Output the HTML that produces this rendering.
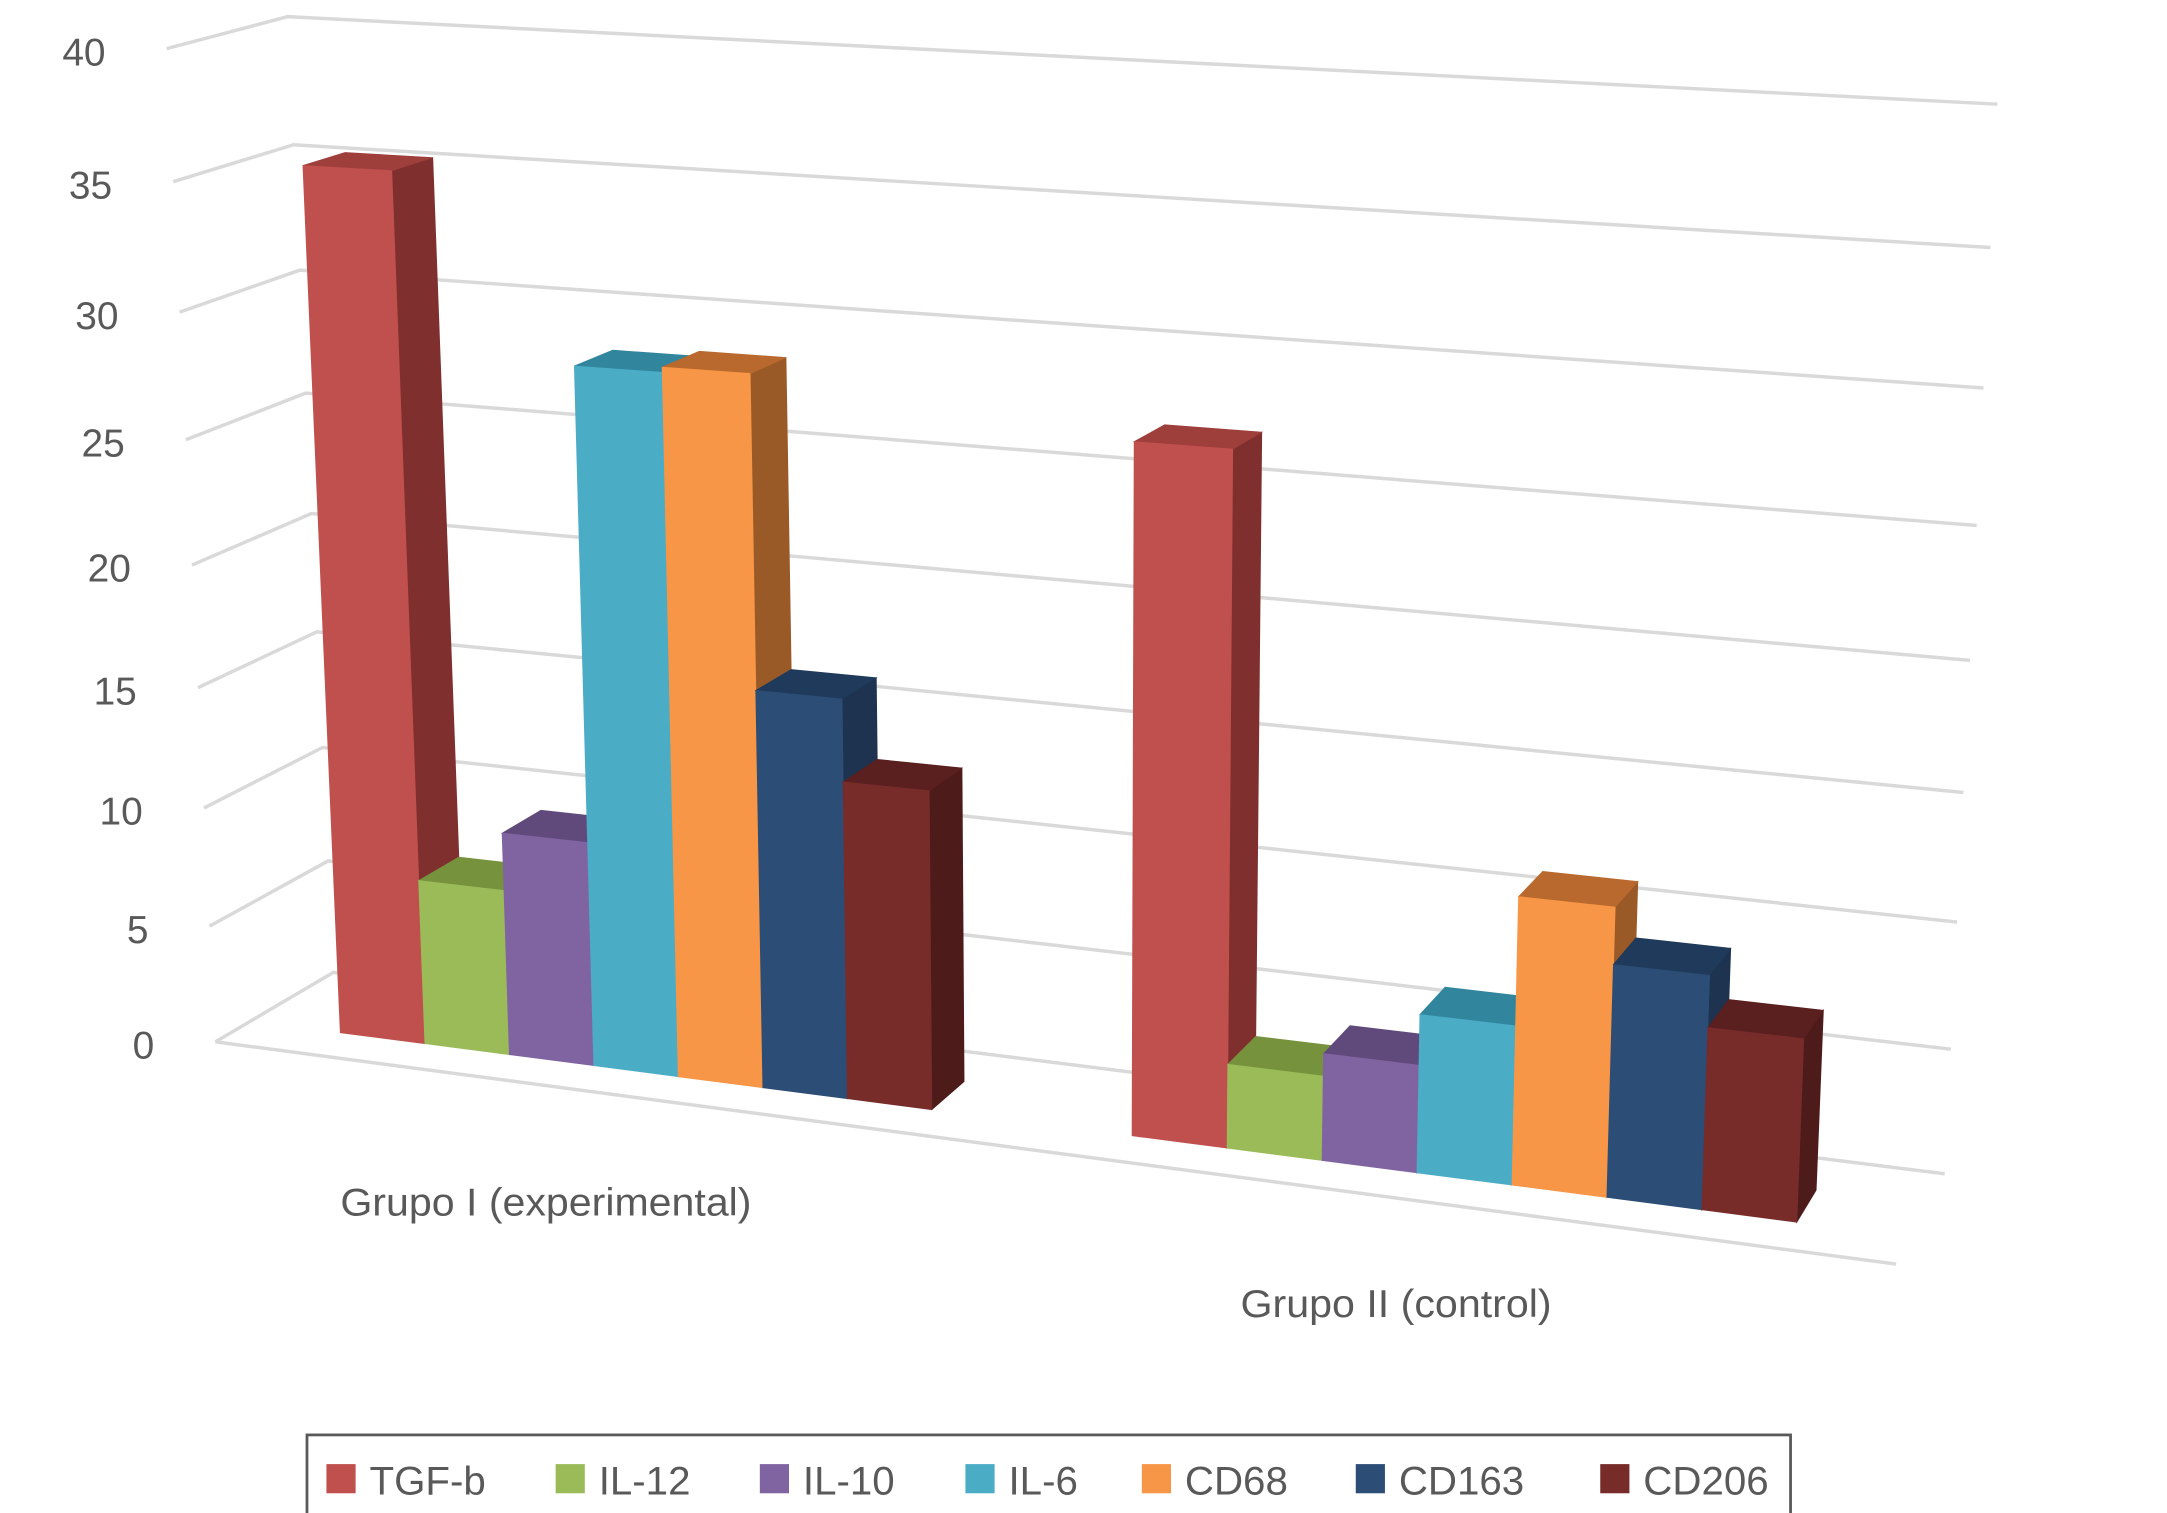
<!DOCTYPE html>
<html>
<head>
<meta charset="utf-8">
<style>
html,body{margin:0;padding:0;background:#fff;}
svg{display:block;}
text{font-family:"Liberation Sans",sans-serif;fill:#595959;}
</style>
</head>
<body>
<svg id="chart" width="2167" height="1513" viewBox="0 0 1560 1089.2" preserveAspectRatio="none" xmlns="http://www.w3.org/2000/svg">
  <g id="grid"></g>
  <g id="ylabels"></g>
  <g id="bars"></g>
  <text x="245" y="875" font-size="28" textLength="296" lengthAdjust="spacingAndGlyphs">Grupo I (experimental)</text>
  <text x="893" y="948" font-size="28" textLength="224" lengthAdjust="spacingAndGlyphs">Grupo II (control)</text>
  <g>
    <rect x="221" y="1033" width="1068" height="60" fill="#fff" stroke="#595959" stroke-width="2"/>
    <g id="legend-items"></g>
  </g>
</svg>
<script>
const categories = ["Grupo I (experimental)", "Grupo II (control)"];
const seriesNames = ["TGF-b", "IL-12", "IL-10", "IL-6", "CD68", "CD163", "CD206"];
const grupoI = [35.4, 7.0, 9.4, 28.4, 28.6, 16.3, 13.0];
const grupoII = [27.1, 3.4, 4.3, 6.3, 11.3, 9.1, 7.1];
const yTicks = [0, 5, 10, 15, 20, 25, 30, 35, 40];

const frontCol = ["#C0504D","#9BBB59","#8064A2","#4BACC6","#F79646","#2C4D75","#772C2A"];
const topCol   = ["#9E3F3C","#76923C","#604A7B","#31859C","#B9692E","#1F3A5A","#5A1F1F"];
const sideCol  = ["#7F2F2E","#5F7A2C","#4E3B66","#2A6E80","#9A5A27","#1D3350","#4E1B1B"];

const NS = "http://www.w3.org/2000/svg";
const a = 0.02308, b = -0.00192;
function tv(v){ return a*v/(1+b*v); }
const B00=[240,700],B10=[1400,845],B01=[207,12],B11=[1438,75];
const F00=[155,750],F10=[1365,910],F01=[120,35],F11=[1398,95];
function bil(p00,p10,p01,p11,X,t){
  const bx=p00[0]+(p10[0]-p00[0])*X, by=p00[1]+(p10[1]-p00[1])*X;
  const tx=p01[0]+(p11[0]-p01[0])*X, ty=p01[1]+(p11[1]-p01[1])*X;
  return [bx+(tx-bx)*t, by+(ty-by)*t];
}
function P(X,v,Z){
  const t=tv(v);
  const bk=bil(B00,B10,B01,B11,X,t), fr=bil(F00,F10,F01,F11,X,t);
  return [bk[0]+(fr[0]-bk[0])*Z, bk[1]+(fr[1]-bk[1])*Z];
}
function pts(arr){ return arr.map(p=>p[0].toFixed(1)+","+p[1].toFixed(1)).join(" "); }

const grid=document.getElementById("grid");
yTicks.forEach(v=>{
  const pl=document.createElementNS(NS,"polyline");
  pl.setAttribute("points", pts([P(0,v,1),P(0,v,0),P(1,v,0)]));
  pl.setAttribute("fill","none");pl.setAttribute("stroke","#D9D9D9");pl.setAttribute("stroke-width","2.5");
  
  
  grid.appendChild(pl);
});
const fl=document.createElementNS(NS,"line");
const f0=P(0,0,1), f1=P(1,0,1);
fl.setAttribute("x1",f0[0]);fl.setAttribute("y1",f0[1]);fl.setAttribute("x2",f1[0]);fl.setAttribute("y2",f1[1]);
fl.setAttribute("stroke","#D9D9D9");fl.setAttribute("stroke-width","2.5");


grid.appendChild(fl);

const yl=document.getElementById("ylabels");
yTicks.forEach(v=>{
  const p=P(0,v,1);
  const t=document.createElementNS(NS,"text");
  t.setAttribute("x",(p[0]-44).toFixed(1));t.setAttribute("y",(p[1]+12).toFixed(1));
  t.setAttribute("text-anchor","end");t.setAttribute("font-size","28");
  t.textContent=String(v);
  
  
  yl.appendChild(t);
});

const groupStart=[0.054,0.531], groupW=[0.0509,0.0572];
const ZF=0.7, ZB=0.34;
const barsG=document.getElementById("bars");
[grupoI,grupoII].forEach((vals,g)=>{
  vals.forEach((v,i)=>{
    const x0=groupStart[g]+i*groupW[g], x1=x0+groupW[g];
    const grp=document.createElementNS(NS,"g");
    
    
    const side=[P(x1,0,ZF),P(x1,v,ZF),P(x1,v,ZB),P(x1,0,ZB)];
    const top=[P(x0,v,ZF),P(x1,v,ZF),P(x1,v,ZB),P(x0,v,ZB)];
    const front=[P(x0,0,ZF),P(x1,0,ZF),P(x1,v,ZF),P(x0,v,ZF)];
    [[side,sideCol[i]],[top,topCol[i]],[front,frontCol[i]]].forEach(([q,c])=>{
      const pg=document.createElementNS(NS,"polygon");
      pg.setAttribute("points",pts(q));pg.setAttribute("fill",c);
      pg.setAttribute("stroke",c);pg.setAttribute("stroke-width","0.6");
      grp.appendChild(pg);
    });
    barsG.appendChild(grp);
  });
});

const swX=[235,400,547,695,822,976,1152];
const li=document.getElementById("legend-items");
seriesNames.forEach((n,i)=>{
  const g=document.createElementNS(NS,"g");
  
  
  const r=document.createElementNS(NS,"rect");
  r.setAttribute("x",swX[i]);r.setAttribute("y",1054);r.setAttribute("width",21);r.setAttribute("height",21);
  r.setAttribute("fill",frontCol[i]);
  g.appendChild(r);
  const t=document.createElementNS(NS,"text");
  t.setAttribute("x",swX[i]+31);t.setAttribute("y",1076);t.setAttribute("font-size","29");
  t.textContent=n;
  g.appendChild(t);
  li.appendChild(g);
});
</script>
</body>
</html>
